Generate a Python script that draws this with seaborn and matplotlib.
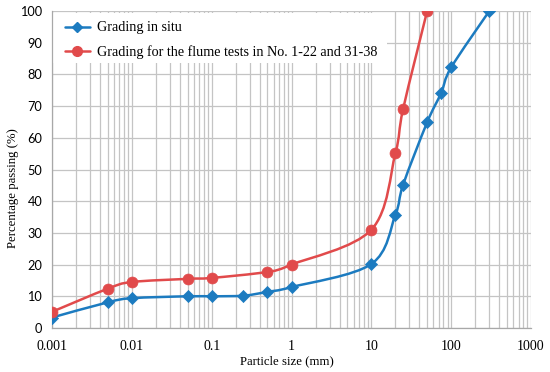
import numpy as np
import pandas as pd
import matplotlib
matplotlib.use("Agg")
import matplotlib.pyplot as plt
import seaborn as sns
from matplotlib.path import Path
from matplotlib.patches import PathPatch, Rectangle
from matplotlib.lines import Line2D
from matplotlib.ticker import FixedLocator, LogLocator, NullFormatter

# ---- data ----
insitu_size = [0.001, 0.005, 0.01, 0.05, 0.1, 0.25, 0.5, 1, 10, 20, 25, 50, 75, 100, 300]
insitu_pass = [3.3, 8.1, 9.4, 10.0, 10.0, 10.2, 11.4, 12.9, 20.2, 35.7, 45.2, 64.9, 74.2, 82.2, 100.0]
flume_size = [0.001, 0.005, 0.01, 0.05, 0.1, 0.5, 1, 10, 20, 25, 50]
flume_pass = [5.1, 12.4, 14.5, 15.5, 15.8, 17.7, 20.0, 31.0, 55.1, 69.1, 100.0]
series_names = ["Grading in situ",
                "Grading for the flume tests in No. 1-22 and 31-38"]
xticks = [0.001, 0.01, 0.1, 1, 10, 100, 1000]
xtick_labels = ["0.001", "0.01", "0.1", "1", "10", "100", "1000"]
yticks = [0, 10, 20, 30, 40, 50, 60, 70, 80, 90, 100]

BLUE = "#1c7bc0"
RED = "#e14a4b"
GRID = "#c4c4c4"

sns.set_theme(style="white")
plt.rcParams["font.family"] = ["Liberation Serif", "DejaVu Serif"]

fig = plt.figure(figsize=(5.5, 3.72), dpi=100)
ax = fig.add_axes([0.0945, 0.1183, 0.871, 0.852])
ax.set_xscale("log")
ax.set_xlim(0.001, 1000)
ax.set_ylim(0, 100)

df_a = pd.DataFrame({"size": insitu_size, "pass": insitu_pass})
df_b = pd.DataFrame({"size": flume_size, "pass": flume_pass})


def smooth_path(xs, ys):
    """Excel-style smoothed line: cubic Bezier through points in display space."""
    pts = ax.transData.transform(np.column_stack([xs, ys]))
    n = len(pts)
    verts = [pts[0]]
    codes = [Path.MOVETO]
    for i in range(n - 1):
        p0 = pts[i - 1] if i > 0 else pts[i]
        p1 = pts[i]
        p2 = pts[i + 1]
        p3 = pts[i + 2] if i + 2 < n else pts[i + 1]
        c1 = p1 + (p2 - p0) / 6.0
        c2 = p2 - (p3 - p1) / 6.0
        verts += [c1, c2, p2]
        codes += [Path.CURVE4] * 3
    verts = ax.transData.inverted().transform(np.array(verts))
    return Path(verts, codes)


for df, col in [(df_a, BLUE), (df_b, RED)]:
    patch = PathPatch(smooth_path(df["size"].values, df["pass"].values),
                      facecolor="none", edgecolor=col, lw=1.8, zorder=3,
                      capstyle="round", joinstyle="round")
    ax.add_patch(patch)

sns.scatterplot(data=df_a, x="size", y="pass", marker="D", s=38, color=BLUE,
                edgecolor=BLUE, linewidth=0.5, ax=ax, zorder=4, legend=False)
sns.scatterplot(data=df_b, x="size", y="pass", marker="o", s=62, color=RED,
                edgecolor=RED, linewidth=0.5, ax=ax, zorder=4, legend=False)

ax.set_xlim(0.001, 1000)
ax.set_ylim(0, 100)

# grid
ax.xaxis.set_major_locator(FixedLocator(xticks))
ax.xaxis.set_minor_locator(LogLocator(base=10, subs=np.arange(2, 10), numticks=20))
ax.xaxis.set_minor_formatter(NullFormatter())
ax.set_xticklabels(xtick_labels)
ax.set_yticks(yticks)
ax.grid(True, which="major", axis="both", color=GRID, lw=0.9)
ax.grid(True, which="minor", axis="x", color=GRID, lw=0.9)
ax.set_axisbelow(True)

for s in ["top", "right"]:
    ax.spines[s].set_visible(False)
for s in ["left", "bottom"]:
    ax.spines[s].set_color("#a8a8a8")
    ax.spines[s].set_linewidth(0.9)

ax.tick_params(axis="y", which="major", direction="out", length=4, width=0.9,
               color="#a8a8a8", pad=3, labelsize=9.2, labelcolor="black")
ax.tick_params(axis="x", which="both", direction="out", length=3, width=0.9,
               color="#a8a8a8", pad=6, labelsize=10, labelcolor="black")
for lab in ax.get_yticklabels():
    lab.set_family(["Lato", "DejaVu Sans"])

ax.set_xlabel("Particle size (mm)", fontsize=9.2, labelpad=3, color="black")
ax.set_ylabel("Percentage passing (%)", fontsize=9.2, color="black")
ax.yaxis.set_label_coords(-0.068, 0.44)
ax.xaxis.set_label_coords(0.49, -0.085)
ax.xaxis.label.set_va("top")

# white legend background covering the grid
ax.add_patch(Rectangle((0.003, 0.836), 0.697, 0.158, transform=ax.transAxes,
                       facecolor="white", edgecolor="none", zorder=1))

handles = [Line2D([], [], color=BLUE, lw=1.8, marker="D", markersize=5.5),
           Line2D([], [], color=RED, lw=1.8, marker="o", markersize=7)]
leg = ax.legend(handles, series_names, loc="upper left",
                bbox_to_anchor=(0.015, 0.985), frameon=False, fontsize=10.2,
                handlelength=1.75, handletextpad=0.55, labelspacing=0.75,
                borderaxespad=0.0)
leg.set_zorder(5)
for t in leg.get_texts():
    t.set_color("black")

fig.savefig("out.png", dpi=100)
